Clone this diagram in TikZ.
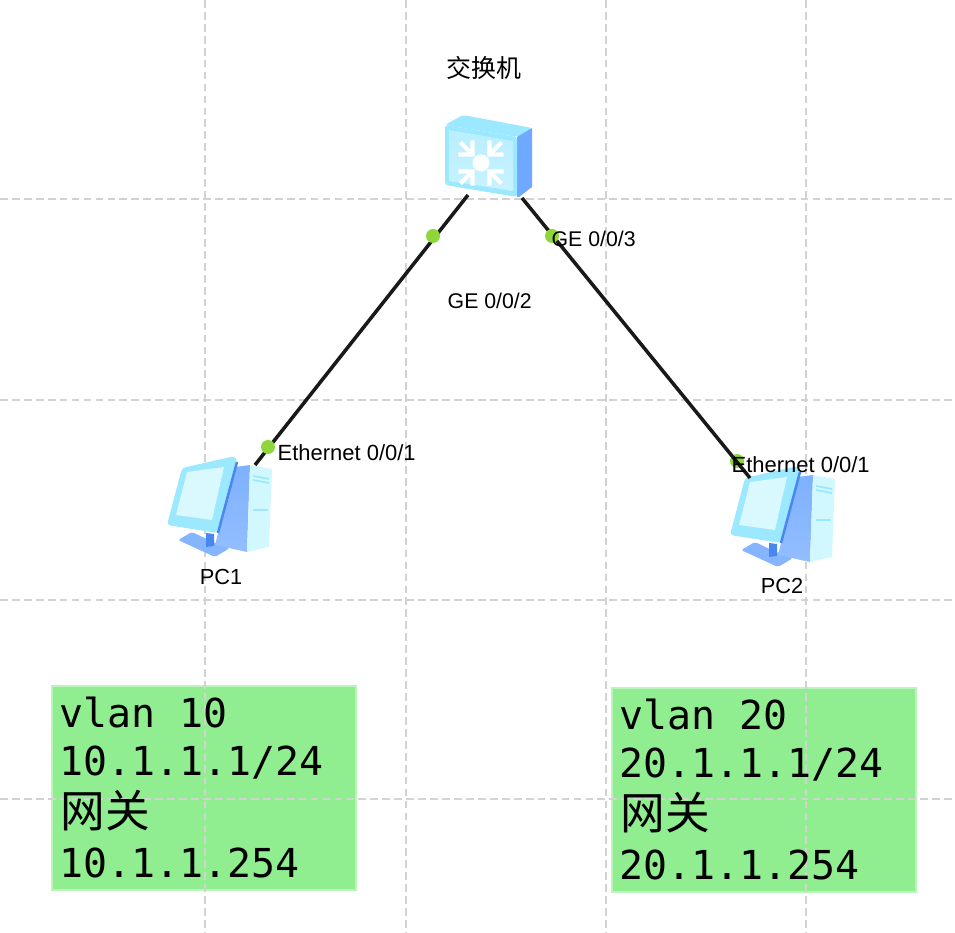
\documentclass[tikz,border=0pt]{standalone}
\usepackage{fontspec}
\setmainfont{Liberation Sans}
\setmonofont{DejaVu Sans Mono}
\newfontfamily\cjk{Noto Sans CJK SC}
\definecolor{gridColour}{HTML}{D2D2D2}
\definecolor{boxColour}{HTML}{90EE90}
\definecolor{portColour}{HTML}{8FD63A}
\definecolor{paleBlue}{HTML}{D2F8FF}
\definecolor{midBlue}{HTML}{9BE8FF}
\definecolor{deepBlue}{HTML}{6FA8FF}
\definecolor{darkBlue}{HTML}{4A86F0}
\tikzset{
    gridline/.style={gridColour, dash pattern=on 2.2pt off 1.2pt, line width=0.42pt},
    portlabel/.style={font=\fontsize{6.25}{7}\selectfont, inner sep=0pt},
    gelabel/.style={font=\fontsize{6.05}{7}\selectfont, inner sep=0pt},
    devicelabel/.style={font=\fontsize{6.2}{7}\selectfont, inner sep=0pt},
    port/.style={circle, fill=portColour, minimum size=0.14cm, inner sep=0pt},
    infobox/.style={fill=boxColour, draw=boxColour!60!white, line width=0.5pt, minimum width=3.04cm, minimum height=2.04cm, inner sep=0pt},
    link/.style={line width=1pt, black!90}
}
% monitor and tower, drawn at the position of PC1
\newcommand{\pcIcon}[2]{
    \begin{scope}[shift={(#1,#2)}]
        \fill[deepBlue!85!white, rounded corners=0.5pt] (1.78,-5.40) -- (1.92,-5.32) -- (2.15,-5.43) -- (2.30,-5.48) -- (2.15,-5.57) -- cycle;
        \fill[darkBlue] (2.06,-5.33) -- (2.14,-5.34) -- (2.14,-5.46) -- (2.06,-5.47) -- cycle;
        \shade[top color=deepBlue!90!white, bottom color=deepBlue!75!white] (2.35,-4.67) -- (2.50,-4.65) -- (2.47,-5.52) -- (2.15,-5.45) -- cycle;
        \fill[paleBlue] (2.50,-4.65) -- (2.72,-4.69) -- (2.69,-5.47) -- (2.47,-5.52) -- cycle;
        \draw[midBlue, line width=0.5pt] (2.53,-4.76) -- (2.69,-4.79);
        \draw[midBlue, line width=0.5pt] (2.53,-4.80) -- (2.69,-4.83);
        \draw[midBlue, line width=0.5pt] (2.53,-5.10) -- (2.68,-5.10);
        \fill[midBlue, rounded corners=1pt] (1.82,-4.68) -- (2.35,-4.56) -- (2.37,-4.62) -- (2.18,-5.33) -- (1.67,-5.25) -- cycle;
        \fill[paleBlue!85!white] (1.87,-4.72) -- (2.24,-4.67) -- (2.12,-5.20) -- (1.76,-5.15) -- cycle;
        \draw[darkBlue, line width=0.7pt] (2.37,-4.62) -- (2.18,-5.33);
    \end{scope}
}
\begin{document}
\begin{tikzpicture}
    \useasboundingbox (0,0) rectangle (9.55,-9.33);

    % Address boxes
    \node[infobox] (boxA) at (2.04,-7.88) {};
    \node[infobox] (boxB) at (7.64,-7.90) {};

    % Draw grid
    \foreach \x in {2.05,4.06,6.06,8.06}
        \draw[gridline] (\x,0) -- (\x,-9.33);
    \foreach \y in {1.99,4.00,6.00,7.99}
        \draw[gridline] (0,-\y) -- (9.55,-\y);

    % Switch
    \fill[midBlue, rounded corners=0.8pt] (4.45,-1.25) -- (4.63,-1.15) -- (5.32,-1.28) -- (5.17,-1.37) -- cycle;
    \fill[deepBlue] (5.17,-1.37) -- (5.32,-1.28) -- (5.32,-1.87) -- (5.19,-1.97) -- (5.17,-1.97) -- cycle;
    \fill[midBlue, rounded corners=0.8pt] (4.45,-1.25) -- (5.17,-1.37) -- (5.17,-1.97) -- (4.45,-1.85) -- cycle;
    \shade[top color=midBlue!70!white, bottom color=midBlue!55!white] (4.49,-1.30) -- (5.13,-1.41) -- (5.13,-1.91) -- (4.49,-1.81) -- cycle;
    \fill[white] (4.81,-1.63) circle (0.085);
    \foreach \a in {45,135,225,315}
        \draw[white, line width=1.15pt, rotate around={\a:(4.81,-1.63)}] (5.10,-1.63) -- (4.93,-1.63) (5.03,-1.53) -- (4.93,-1.63) -- (5.03,-1.73);

    % PC icons
    \pcIcon{0}{0}
    \pcIcon{5.63}{-0.10}

    % Devices
    \node[inner sep=0pt, minimum width=0.88cm, minimum height=0.82cm] (sw) at (4.89,-1.56) {};
    \node[inner sep=0pt, minimum width=1.08cm, minimum height=1.02cm] (pcA) at (2.20,-5.07) {};
    \node[inner sep=0pt, minimum width=1.08cm, minimum height=1.02cm] (pcB) at (7.83,-5.17) {};
    \coordinate (swL) at (4.68,-1.95);
    \coordinate (swR) at (5.22,-1.98);
    \coordinate (pcAtop) at (2.55,-4.65);
    \coordinate (pcBtop) at (7.50,-4.78);

    % Links, the dot at PC2 lies under its link
    \node[port] (portD) at (7.37,-4.61) {};
    \draw[link] (swL) -- (pcAtop);
    \draw[link] (swR) -- (pcBtop);

    % Port dots
    \node[port] (portA) at (4.33,-2.36) {};
    \node[port] (portB) at (5.52,-2.36) {};
    \node[port] (portC) at (2.68,-4.47) {};

    % Labels
    \node[devicelabel, font=\cjk\fontsize{7.1}{8}\selectfont] (swName) at (4.84,-0.68) {交换机};
    \node[devicelabel] (pcAName) at (2.21,-5.77) {PC1};
    \node[devicelabel] (pcBName) at (7.82,-5.86) {PC2};
    \node[gelabel, anchor=west] (ge2) at (4.47,-3.01) {GE 0/0/2};
    \node[gelabel, anchor=west] (ge3) at (5.51,-2.39) {GE 0/0/3};
    \node[portlabel, anchor=west] (ethA) at (2.77,-4.53) {Ethernet 0/0/1};
    \node[portlabel, anchor=west] (ethB) at (7.31,-4.65) {Ethernet 0/0/1};

    % Box texts
    \foreach \name/\bx/\by/\vlan/\addr/\gw in {a/0.59/0/vlan 10/10.1.1.1\slash 24/10.1.1.254, b/6.19/0.02/vlan 20/20.1.1.1\slash 24/20.1.1.254} {
        \node[anchor=west, inner sep=0pt, font=\ttfamily\fontsize{11.35}{12}\selectfont] (\name vlan) at (\bx,-7.13-\by) {\vlan};
        \node[anchor=west, inner sep=0pt, font=\ttfamily\fontsize{11.35}{12}\selectfont] (\name addr) at (\bx,-7.63-\by) {\addr};
        \node[anchor=west, inner sep=0pt, font=\cjk\fontsize{12.7}{13}\selectfont] (\name gw) at (\bx+0.01,-8.11-\by) {网关};
        \node[anchor=west, inner sep=0pt, font=\ttfamily\fontsize{11.35}{12}\selectfont] (\name ip) at (\bx,-8.63-\by) {\gw};
    }
\end{tikzpicture}
\end{document}
